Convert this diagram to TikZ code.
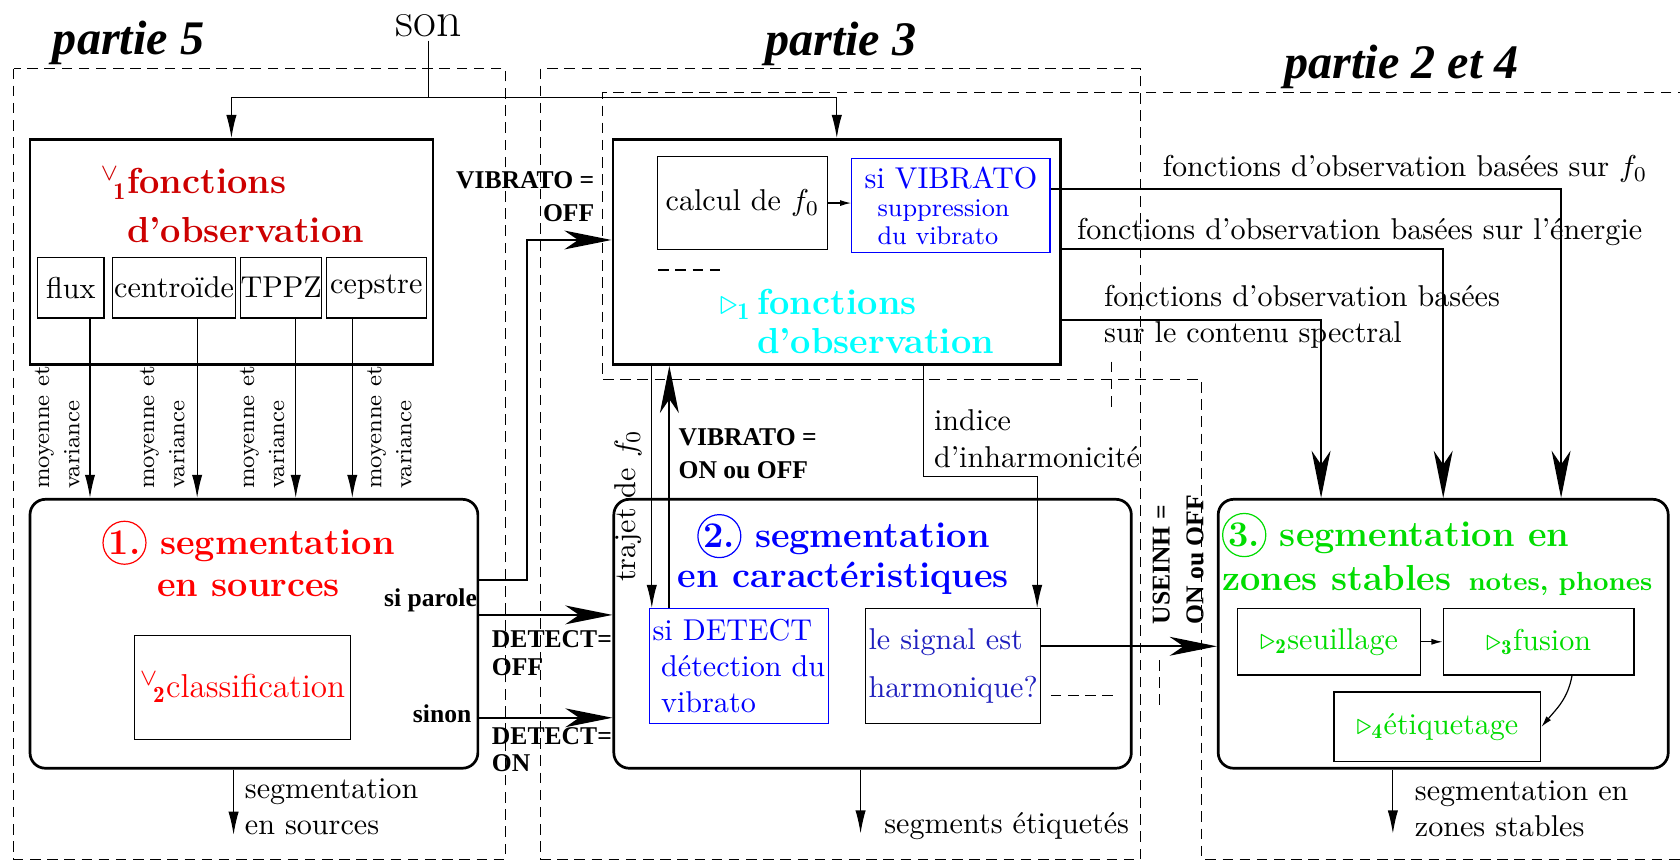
\documentclass[tikz,border=0pt]{standalone}
\usepackage{fontspec}
\usepackage{xcolor}
\usepackage{tikz}
\usetikzlibrary{arrows.meta,positioning}
\usepackage{amsmath}
\usepackage{amssymb}
\newfontfamily\timesfont{Liberation Serif}
\definecolor{obsred}{RGB}{205,0,0}
\definecolor{obscyan}{RGB}{0,255,255}
\definecolor{zonegreen}{RGB}{0,220,0}
\definecolor{harmblue}{RGB}{30,30,190}
\newcommand{\numcirc}[1]{\tikz[baseline=(nc.base)]\node[circle, draw, thin, inner sep=0.4pt] (nc) {#1.};}

\begin{document}
\begin{tikzpicture}[
    >=Stealth,
    bigbox/.style={draw, line width=0.9pt, inner sep=0pt},
    roundbox/.style={bigbox, rounded corners=0.18cm},
    subbox/.style={draw, thin, inner sep=0pt, align=center},
    zone/.style={thin, dash pattern=on 3.5pt off 2.2pt},
    arrow/.style={-{Latex[length=2.7mm,width=1.2mm]}, thin},
    bigarrow/.style={-{Stealth[length=5.5mm,width=2.2mm,inset=1.6mm]}, line width=0.7pt},
    tinyarrow/.style={-{Latex[length=1.3mm,width=0.7mm]}, thin},
    partie/.style={font={\timesfont\fontsize{16}{18}\selectfont\bfseries\itshape}},
    headline/.style={inner sep=0pt, align=center},
    cond/.style={font={\timesfont\fontsize{8.5}{11.2}\selectfont\bfseries},
                 inner sep=0pt, align=left},
    meanvar/.style={rotate=90, anchor=north west, inner sep=0pt, align=left,
                    font={\fontsize{7.7}{10}\selectfont}},
    note/.style={inner sep=0pt, align=left},
  ]
  \useasboundingbox (0,0) rectangle (19.6,-10.05);

  % ── Titles ──
  \node[partie] at (1.5,-0.5) (p5) {partie 5};
  \node[partie] at (9.81,-0.51) (p3) {partie 3};
  \node[partie] at (16.35,-0.78) (p24) {partie 2 et 4};
  \node[inner sep=1pt, font={\fontsize{16.5}{19}\selectfont}] at (5.0,-0.3) (son) {son};

  % ── Dashed zones ──
  \draw[zone] (0.16,-0.8) rectangle (5.9,-10.025);
  \draw[zone] (6.31,-0.8) rectangle (13.31,-10.025);
  \draw[zone] (19.7,-1.08) -- (7.03,-1.08) -- (7.03,-4.43) -- (14.02,-4.43)
    -- (14.02,-10.025) -- (19.7,-10.025);
  % leftover dashes
  \draw[zone] (12.97,-4.22) -- (12.97,-4.75);
  \draw[zone] (13.53,-7.7) -- (13.53,-8.26);
  \draw[zone] (12.26,-8.11) -- (13.05,-8.11);
  \draw[zone] (7.68,-3.15) -- (8.47,-3.15);

  % ── Row 0: observation functions (partie 5) ──
  \node[bigbox, minimum width=4.7cm, minimum height=2.625cm] at (2.7,-2.94) (obs5) {};
  \node[headline, align=left, anchor=base west, text=obsred,
        font={\fontsize{12}{16}\selectfont\bfseries}] at (1.475,-2.825) (obs5t)
    {\llap{$^{\vee}\!{}_{\mathbf{1}}$}fonctions\\d’observation};
  \node[subbox, minimum width=0.775cm, minimum height=0.71cm] at (0.825,-3.356) (flux) {flux};
  \node[subbox, minimum width=1.4375cm, minimum height=0.71cm] at (2.03,-3.356) (centroide) {centroïde};
  \node[subbox, minimum width=0.8625cm, minimum height=0.71cm] at (3.28,-3.356) (tppz) {TPPZ};
  \node[subbox, minimum width=1.1625cm, minimum height=0.71cm] at (4.39,-3.356) (cepstre) {cepstre};

  % ── Row 0: observation functions (partie 3) ──
  \node[bigbox, minimum width=5.225cm, minimum height=2.625cm] at (9.7625,-2.94) (obs3) {};
  \node[subbox, minimum width=1.975cm, minimum height=1.0875cm] at (8.6625,-2.369) (calcul)
    {calcul de $f_0$};
  \node[subbox, draw=blue, text=blue, align=left, minimum width=2.3125cm,
        minimum height=1.1cm, font={\fontsize{10}{9.3}\selectfont}] at (11.094,-2.4) (sivib)
    {si VIBRATO\\
     \hspace*{1.5mm}{\fontsize{8.5}{9.5}\selectfont suppression}\\
     \hspace*{1.5mm}{\fontsize{8.5}{9.5}\selectfont du vibrato}};
  \node[headline, align=left, anchor=base west, text=obscyan,
        font={\fontsize{12}{13}\selectfont\bfseries}] at (8.825,-4.125) (obs3t)
    {\llap{$\triangleright_{\mathbf{1}}$\,}fonctions\\d’observation};

  % ── Row 1: segmentation en sources ──
  \node[roundbox, minimum width=5.225cm, minimum height=3.1375cm] at (2.9625,-7.394) (seg1) {};
  \node[headline, anchor=base, text=red, font={\fontsize{12}{14}\selectfont\bfseries}]
    at (2.9,-6.9625) (seg1t) {\numcirc{1} segmentation\\en sources};
  \node[subbox, minimum width=2.5125cm, minimum height=1.2125cm, text=red,
        font={\fontsize{11}{13}\selectfont}] at (2.83,-8.02) (classif)
    {$^{\vee}\!{}_{\mathbf{2}}$classification};

  % ── Row 1: segmentation en caractéristiques ──
  \node[roundbox, minimum width=6.0375cm, minimum height=3.1375cm] at (10.18,-7.394) (seg2) {};
  \node[headline, anchor=base, text=blue, font={\fontsize{12}{13}\selectfont\bfseries}]
    at (9.84,-6.85) (seg2t) {\numcirc{2} segmentation\\en caractéristiques};
  \node[subbox, draw=blue, text=blue, align=left, minimum width=2.0875cm,
        minimum height=1.3375cm, font={\fontsize{10}{11.9}\selectfont}] at (8.62,-7.77) (sidet)
    {si DETECT\\\hspace*{1mm}détection du\\\hspace*{1mm}vibrato};
  \node[subbox, text=harmblue, align=left, minimum width=2.0375cm,
        minimum height=1.3375cm, font={\fontsize{10}{16}\selectfont}] at (11.12,-7.77) (harm)
    {le signal est\\harmonique?};

  % ── Row 1: segmentation en zones stables ──
  \node[roundbox, minimum width=5.25cm, minimum height=3.1375cm] at (16.8375,-7.394) (seg3) {};
  \node[headline, align=left, anchor=base west, text=zonegreen,
        font={\fontsize{12}{14.5}\selectfont\bfseries}] at (14.25,-6.8875) (seg3t)
    {\numcirc{3} segmentation en\\zones stables\hspace{2mm}{\fontsize{8.7}{10}\selectfont notes, phones}};
  \node[subbox, text=zonegreen, minimum width=2.1375cm, minimum height=0.775cm]
    at (15.506,-7.4875) (seuil) {$\triangleright_{\mathbf{2}}$seuillage};
  \node[subbox, text=zonegreen, minimum width=2.225cm, minimum height=0.775cm]
    at (17.95,-7.4875) (fusion) {$\triangleright_{\mathbf{3}}$fusion};
  \node[subbox, text=zonegreen, minimum width=2.4125cm, minimum height=0.8125cm]
    at (16.77,-8.48) (etiq) {$\triangleright_{\mathbf{4}}$étiquetage};

  % ── Arrows ──
  % son → both observation boxes
  \coordinate (split) at (5.0,-1.14);
  \draw (son) -- (split);
  \draw[arrow] (split) -| (obs5.north);
  \draw[arrow] (split) -| (obs3.north);

  % statistics → segmentation en sources
  \coordinate (fluxdown) at ([xshift=2.25mm]flux.south);
  \coordinate (centdown) at ([xshift=2.7mm]centroide.south);
  \coordinate (tppzdown) at ([xshift=1.7mm]tppz.south);
  \coordinate (cepsdown) at ([xshift=-2.8mm]cepstre.south);
  \draw[arrow] (fluxdown) -- (fluxdown |- seg1.north);
  \draw[arrow] (centdown) -- (centdown |- seg1.north);
  \draw[arrow] (tppzdown) -- (tppzdown |- seg1.north);
  \draw[arrow] (cepsdown) -- (cepsdown |- seg1.north);
  \node[meanvar] at (0.4,-5.71) (mv1) {moyenne et\\variance};
  \node[meanvar] at (1.625,-5.71) (mv2) {moyenne et\\variance};
  \node[meanvar] at (2.79,-5.71) (mv3) {moyenne et\\variance};
  \node[meanvar] at (4.275,-5.71) (mv4) {moyenne et\\variance};

  % sources → caractéristiques, sources → f0 box
  \draw[bigarrow] ([yshift=2.2mm]seg1.east) -- ([yshift=2.2mm]seg2.west);
  \draw[bigarrow] ([yshift=-9.8mm]seg1.east) -- ([yshift=-9.8mm]seg2.west);
  \draw[bigarrow] ([yshift=6.3mm]seg1.east) -- ++(0.56,0) |- ([yshift=1.4mm]obs3.west);
  \node[cond, anchor=base east] at ([xshift=-0.2mm,yshift=3.2mm]seg1.east) (parole) {si parole};
  \node[cond, anchor=base east] at ([xshift=-0.85mm,yshift=-10.3mm]seg1.east) (sinon) {sinon};
  \node[cond, anchor=base east, font={\timesfont\fontsize{8.5}{9}\selectfont\bfseries}]
    at ([yshift=-4.81mm]seg2.west) (detoff) {DETECT=\\OFF};
  \node[cond, anchor=base east, font={\timesfont\fontsize{8.5}{9}\selectfont\bfseries}]
    at ([yshift=-16.06mm]seg2.west) (deton) {DETECT=\\ON};
  \node[cond, anchor=base east, align=right] at (6.94,-2.5875) (viboff) {VIBRATO =\\OFF};

  % f0 box → zones stables
  \draw[bigarrow] ([yshift=2mm]sivib.east) -| ([xshift=13.75mm]seg3.north);
  \draw[bigarrow] ([yshift=0.4mm]obs3.east) -| (seg3.north);
  \draw[bigarrow] ([yshift=-7.9mm]obs3.east) -| ([xshift=-14.25mm]seg3.north);
  \node[note, anchor=base west] at (13.56,-2.06) (lfz)
    {fonctions d’observation basées sur $f_0$};
  \node[note, anchor=base west] at (12.56,-2.8) (lnrj)
    {fonctions d’observation basées sur l’énergie};
  \node[note, anchor=base west] at (12.875,-4.0) (lspec)
    {fonctions d’observation basées\\sur le contenu spectral};

  % f0 box ↔ vibrato detection
  \coordinate (trj) at ([xshift=0.35mm]sidet.north west);
  \coordinate (vib) at ([xshift=2.4mm]sidet.north west);
  \draw[arrow] (trj |- obs3.south) -- (trj);
  \draw[bigarrow] (vib) -- (vib |- obs3.south);
  \node[rotate=90, inner sep=0pt] at (7.33,-5.9) (trajet) {trajet de $f_0$};
  \node[cond, anchor=base west] at (7.91,-5.5875) (vibonoff) {VIBRATO =\\ON ou OFF};

  % inharmonicity
  \draw[arrow] ([xshift=10.15mm]obs3.south) -- ++(0,-1.29) -| ([xshift=9.8mm]harm.north);
  \node[note, anchor=base west] at (10.89,-5.45) (indice) {indice\\d’inharmonicité};

  % harmonic → zones stables
  \coordinate (useinh) at ([yshift=2.3mm]harm.east);
  \draw[bigarrow] (useinh) -- (useinh -| seg3.west);
  \node[cond, rotate=90, anchor=north west] at (13.44,-7.29) (useinhl) {USEINH =\\ON ou OFF};

  % inner steps
  \draw[tinyarrow] (calcul.east) -- (calcul.east -| sivib.west);
  \draw[tinyarrow] (seuil) -- (fusion);
  \draw[tinyarrow] ([xshift=3.9mm]fusion.south) to[out=-100, in=50] (etiq.east);

  % outputs
  \coordinate (out1) at (2.725,-9.74);
  \coordinate (out2) at (10.04,-9.725);
  \coordinate (out3) at (16.25,-9.725);
  \draw[arrow] (out1 |- seg1.south) -- (out1);
  \draw[arrow] (out2 |- seg2.south) -- (out2);
  \draw[arrow] (out3 |- seg3.south) -- (out3);
  \node[note, anchor=base west] at (2.85,-9.7375) (seg1out) {segmentation\\en sources};
  \node[note, anchor=base west] at (10.31,-9.72) (seg2out) {segments étiquetés};
  \node[note, anchor=base west] at (16.5,-9.7625) (seg3out) {segmentation en\\zones stables};

\end{tikzpicture}
\end{document}
